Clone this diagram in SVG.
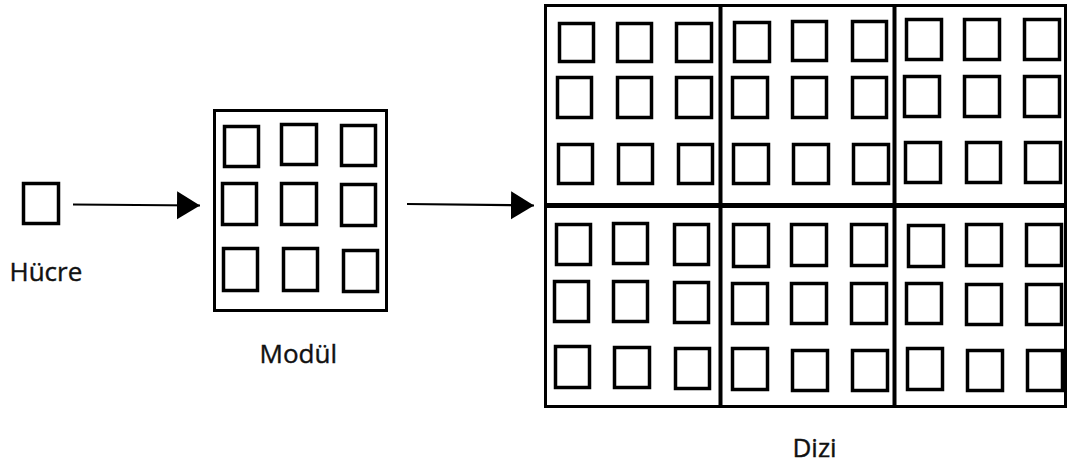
<svg xmlns="http://www.w3.org/2000/svg" width="1067" height="465" viewBox="0 0 1067 465">
  <style>
    .cell { fill: none; stroke: #000; stroke-width: 3.5; }
    .frame { fill: none; stroke: #000; stroke-width: 3; }
    .div { stroke: #000; stroke-width: 4; }
    .link { stroke: #000; stroke-width: 2.2; fill: none; marker-end: url(#head); }
    .label { font-family: "Open Sans", "Noto Sans", sans-serif; font-size: 26px; fill: #111; stroke: #111; stroke-width: 0.4; }
  </style>
  <defs>
    <marker id="head" markerUnits="userSpaceOnUse" markerWidth="24" markerHeight="30" refX="23" refY="14" orient="auto">
      <path d="M0,0 L23,14 L0,28 Z" fill="#000"/>
    </marker>
  </defs>
  <rect width="1067" height="465" fill="#fff"/>

  <!-- single cell -->
  <g id="hucre">
    <rect class="cell" x="23.5" y="183.5" width="35" height="40"/>
    <text class="label" x="9.5" y="281">Hücre</text>
  </g>

  <!-- module: 3x3 cells in a frame -->
  <g id="modul">
    <rect class="frame" x="214.5" y="110.5" width="172" height="200"/>
    <rect class="cell" x="224.5" y="126.5" width="34" height="40"/>
    <rect class="cell" x="281.5" y="124.5" width="35" height="40"/>
    <rect class="cell" x="341.5" y="125.5" width="34" height="40"/>
    <rect class="cell" x="222.5" y="183.5" width="34" height="41"/>
    <rect class="cell" x="281.5" y="183.5" width="35" height="41"/>
    <rect class="cell" x="341.5" y="184.5" width="34" height="41"/>
    <rect class="cell" x="223.5" y="248.5" width="34" height="42"/>
    <rect class="cell" x="283.5" y="248.5" width="34" height="42"/>
    <rect class="cell" x="343.5" y="250.5" width="34" height="41"/>
    <text class="label" x="259.5" y="363">Modül</text>
  </g>

  <!-- array: 2x3 modules -->
  <g id="dizi">
    <rect class="frame" x="545.5" y="5.5" width="520" height="401"/>
    <line class="div" x1="720.5" y1="4" x2="720.5" y2="408"/>
    <line class="div" x1="894.5" y1="4" x2="894.5" y2="408"/>
    <line stroke="#000" stroke-width="5" x1="544" y1="205.5" x2="1067" y2="205.5"/>

    <!-- top-left module -->
    <rect class="cell" x="559.5" y="23.5" width="34" height="38"/>
    <rect class="cell" x="617.5" y="23.5" width="34" height="38"/>
    <rect class="cell" x="676.5" y="23.5" width="35" height="38"/>
    <rect class="cell" x="557.5" y="77.5" width="34" height="40"/>
    <rect class="cell" x="617.5" y="77.5" width="34" height="40"/>
    <rect class="cell" x="676.5" y="77.5" width="35" height="40"/>
    <rect class="cell" x="558.5" y="144.5" width="34" height="39"/>
    <rect class="cell" x="618.5" y="144.5" width="34" height="39"/>
    <rect class="cell" x="678.5" y="144.5" width="34" height="39"/>

    <!-- top-middle module -->
    <rect class="cell" x="734.5" y="22.5" width="35" height="39"/>
    <rect class="cell" x="792.5" y="21.5" width="34" height="39"/>
    <rect class="cell" x="852.5" y="21.5" width="34" height="39"/>
    <rect class="cell" x="732.5" y="77.5" width="35" height="40"/>
    <rect class="cell" x="792.5" y="77.5" width="34" height="40"/>
    <rect class="cell" x="852.5" y="77.5" width="34" height="40"/>
    <rect class="cell" x="733.5" y="144.5" width="35" height="39"/>
    <rect class="cell" x="793.5" y="144.5" width="35" height="39"/>
    <rect class="cell" x="853.5" y="144.5" width="35" height="39"/>

    <!-- top-right module -->
    <rect class="cell" x="906.5" y="19.5" width="35" height="40"/>
    <rect class="cell" x="964.5" y="19.5" width="35" height="40"/>
    <rect class="cell" x="1024.5" y="19.5" width="35" height="40"/>
    <rect class="cell" x="904.5" y="76.5" width="35" height="40"/>
    <rect class="cell" x="964.5" y="76.5" width="35" height="40"/>
    <rect class="cell" x="1024.5" y="76.5" width="35" height="40"/>
    <rect class="cell" x="905.5" y="142.5" width="35" height="40"/>
    <rect class="cell" x="966.5" y="142.5" width="34" height="40"/>
    <rect class="cell" x="1025.5" y="142.5" width="35" height="40"/>

    <!-- bottom-left module -->
    <rect class="cell" x="556.5" y="224.5" width="34" height="40"/>
    <rect class="cell" x="613.5" y="223.5" width="34" height="40"/>
    <rect class="cell" x="674.5" y="224.5" width="34" height="40"/>
    <rect class="cell" x="554.5" y="281.5" width="34" height="40"/>
    <rect class="cell" x="613.5" y="281.5" width="34" height="40"/>
    <rect class="cell" x="674.5" y="282.5" width="34" height="40"/>
    <rect class="cell" x="555.5" y="346.5" width="34" height="41"/>
    <rect class="cell" x="614.5" y="347.5" width="35" height="40"/>
    <rect class="cell" x="675.5" y="348.5" width="34" height="40"/>

    <!-- bottom-middle module -->
    <rect class="cell" x="733.5" y="224.5" width="35" height="42"/>
    <rect class="cell" x="791.5" y="224.5" width="35" height="41"/>
    <rect class="cell" x="851.5" y="224.5" width="35" height="41"/>
    <rect class="cell" x="732.5" y="283.5" width="35" height="40"/>
    <rect class="cell" x="791.5" y="283.5" width="35" height="40"/>
    <rect class="cell" x="851.5" y="283.5" width="35" height="40"/>
    <rect class="cell" x="732.5" y="348.5" width="35" height="41"/>
    <rect class="cell" x="792.5" y="350.5" width="35" height="40"/>
    <rect class="cell" x="852.5" y="350.5" width="35" height="40"/>

    <!-- bottom-right module -->
    <rect class="cell" x="908.5" y="225.5" width="35" height="41"/>
    <rect class="cell" x="966.5" y="224.5" width="35" height="41"/>
    <rect class="cell" x="1026.5" y="224.5" width="35" height="41"/>
    <rect class="cell" x="906.5" y="283.5" width="35" height="40"/>
    <rect class="cell" x="966.5" y="284.5" width="35" height="40"/>
    <rect class="cell" x="1026.5" y="284.5" width="35" height="40"/>
    <rect class="cell" x="907.5" y="348.5" width="35" height="41"/>
    <rect class="cell" x="967.5" y="350.5" width="35" height="40"/>
    <rect class="cell" x="1027.5" y="350.5" width="35" height="40"/>

    <text class="label" x="792.5" y="457">Dizi</text>
  </g>

  <!-- connectors -->
  <g id="connectors">
    <line class="link" x1="73" y1="204.5" x2="200" y2="205.5"/>
    <line class="link" x1="407" y1="204" x2="534" y2="205.5"/>
  </g>
</svg>
